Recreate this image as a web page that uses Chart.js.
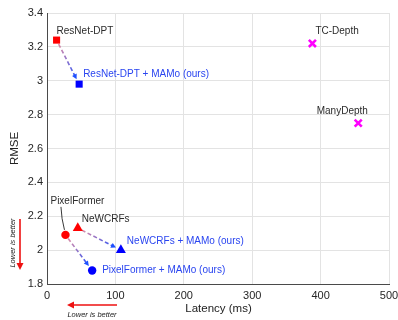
<!DOCTYPE html>
<html>
<head>
<meta charset="utf-8">
<script src="https://cdn.jsdelivr.net/npm/chart.js@4"></script>
<style>
html,body{margin:0;padding:0;background:#fff;}
#wrap{width:398px;height:320px;position:relative;}
</style>
</head>
<body>
<div id="wrap"><canvas id="c"></canvas></div>
<script>
// ---- data ----
const baseNames = ['ResNet-DPT', 'PixelFormer', 'NeWCRFs'];
const baseLatency = [14, 27, 45];
const baseRmse = [3.24, 2.09, 2.13];
const oursNames = ['ResNet-DPT + MAMo (ours)', 'PixelFormer + MAMo (ours)', 'NeWCRFs + MAMo (ours)'];
const oursLatency = [47, 66, 108];
const oursRmse = [2.98, 1.88, 2.00];
const otherNames = ['TC-Depth', 'ManyDepth'];
const otherLatency = [388, 455];
const otherRmse = [3.22, 2.75];
const xTicks = [0, 100, 200, 300, 400, 500];
const yTicks = [1.8, 2.0, 2.2, 2.4, 2.6, 2.8, 3.0, 3.2, 3.4];

const FONT = "'Liberation Sans', Arial, Helvetica, sans-serif";
const pointStyles = ['rect', 'circle', 'triangle'];
const radii = [5, 4.2, 5.8];

const toPts = (xs, ys) => xs.map((x, i) => ({x: x, y: ys[i]}));

// label offsets (pixels, style only)
const baseLabelOff = [[0, -9, 'left'], [-15, -34, 'left'], [4, -9, 'left']];
const oursLabelOff = [[4, -10, 'left'], [10, 0, 'left'], [6, -9, 'left']];
const otherLabelOff = [[3, -12, 'left'], [-41.5, -12, 'left']];

function arrowHead(ctx, x, y, ang, len, wid, color) {
  ctx.save();
  ctx.fillStyle = color;
  ctx.beginPath();
  ctx.moveTo(x, y);
  ctx.lineTo(x - len * Math.cos(ang) + wid * Math.sin(ang), y - len * Math.sin(ang) - wid * Math.cos(ang));
  ctx.lineTo(x - len * Math.cos(ang) - wid * Math.sin(ang), y - len * Math.sin(ang) + wid * Math.cos(ang));
  ctx.closePath();
  ctx.fill();
  ctx.restore();
}

const overlay = {
  id: 'overlay',
  beforeDatasetsDraw(chart) {
    const ctx = chart.ctx, xs = chart.scales.x, ys = chart.scales.y;
    for (let i = 0; i < baseNames.length; i++) {
      const x0 = xs.getPixelForValue(baseLatency[i]), y0 = ys.getPixelForValue(baseRmse[i]);
      const x1 = xs.getPixelForValue(oursLatency[i]), y1 = ys.getPixelForValue(oursRmse[i]);
      const ang = Math.atan2(y1 - y0, x1 - x0);
      const sx = x0 + 4.5 * Math.cos(ang), sy = y0 + 4.5 * Math.sin(ang);
      const ex = x1 - 5.5 * Math.cos(ang), ey = y1 - 5.5 * Math.sin(ang);
      const g = ctx.createLinearGradient(sx, sy, ex, ey);
      g.addColorStop(0, 'rgba(215,120,150,0.85)');
      g.addColorStop(1, 'rgba(30,80,255,1)');
      ctx.save();
      ctx.strokeStyle = g;
      ctx.lineWidth = 1.6;
      ctx.setLineDash([4, 2.5]);
      ctx.beginPath();
      ctx.moveTo(sx, sy);
      ctx.lineTo(ex - 3 * Math.cos(ang), ey - 3 * Math.sin(ang));
      ctx.stroke();
      ctx.restore();
      arrowHead(ctx, ex, ey, ang, 5, 2.6, 'rgb(30,80,255)');
    }
  },
  afterDraw(chart) {
    const ctx = chart.ctx, xs = chart.scales.x, ys = chart.scales.y;
    const ca = chart.chartArea;
    ctx.save();
    ctx.textBaseline = 'middle';
    ctx.font = '10px ' + FONT;
    {
      const px = xs.getPixelForValue(baseLatency[1]), py = ys.getPixelForValue(baseRmse[1]);
      ctx.strokeStyle = '#222';
      ctx.lineWidth = 0.9;
      ctx.beginPath();
      ctx.moveTo(px - 1, py - 5);
      ctx.quadraticCurveTo(px - 4, py - 16, px - 4.5, py - 28);
      ctx.stroke();
    }
    for (let i = 0; i < baseNames.length; i++) {
      const px = xs.getPixelForValue(baseLatency[i]), py = ys.getPixelForValue(baseRmse[i]);
      ctx.fillStyle = '#2b2b2b';
      ctx.textAlign = baseLabelOff[i][2];
      ctx.fillText(baseNames[i], px + baseLabelOff[i][0], py + baseLabelOff[i][1]);
    }
    for (let i = 0; i < oursNames.length; i++) {
      const px = xs.getPixelForValue(oursLatency[i]), py = ys.getPixelForValue(oursRmse[i]);
      ctx.fillStyle = '#2a45f0';
      ctx.textAlign = oursLabelOff[i][2];
      ctx.fillText(oursNames[i], px + oursLabelOff[i][0], py + oursLabelOff[i][1]);
    }
    for (let i = 0; i < otherNames.length; i++) {
      const px = xs.getPixelForValue(otherLatency[i]), py = ys.getPixelForValue(otherRmse[i]);
      ctx.fillStyle = '#2b2b2b';
      ctx.textAlign = otherLabelOff[i][2];
      ctx.fillText(otherNames[i], px + otherLabelOff[i][0], py + otherLabelOff[i][1]);
    }
    ctx.fillStyle = '#222';
    ctx.font = '11.5px ' + FONT;
    ctx.textAlign = 'center';
    ctx.fillText('Latency (ms)', (ca.left + ca.right) / 2 + 0.5, 309);
    ctx.save();
    ctx.translate(15, (ca.top + ca.bottom) / 2);
    ctx.rotate(-Math.PI / 2);
    ctx.fillText('RMSE', 0, 0);
    ctx.restore();
    const red = '#ee1111';
    ctx.strokeStyle = red;
    ctx.lineWidth = 1.6;
    ctx.beginPath();
    ctx.moveTo(20, 219);
    ctx.lineTo(20, 264);
    ctx.stroke();
    arrowHead(ctx, 20, 270, Math.PI / 2, 7, 3.5, red);
    ctx.beginPath();
    ctx.moveTo(117, 305);
    ctx.lineTo(73, 305);
    ctx.stroke();
    arrowHead(ctx, 67, 305, Math.PI, 7, 3.5, red);
    ctx.fillStyle = '#222';
    ctx.font = 'italic 7.5px ' + FONT;
    ctx.fillText('Lower is better', 92, 315);
    ctx.save();
    ctx.translate(12.5, 243);
    ctx.rotate(-Math.PI / 2);
    ctx.fillText('Lower is better', 0, 0);
    ctx.restore();
    ctx.restore();
  }
};

new Chart(document.getElementById('c'), {
  type: 'scatter',
  data: {
    datasets: [
      {
        label: 'Baselines',
        data: toPts(baseLatency, baseRmse),
        pointStyle: pointStyles,
        pointRadius: radii,
        backgroundColor: '#ff0000',
        borderColor: '#ff0000',
        borderWidth: 0
      },
      {
        label: 'Ours',
        data: toPts(oursLatency, oursRmse),
        pointStyle: pointStyles,
        pointRadius: radii,
        backgroundColor: '#0000ff',
        borderColor: '#0000ff',
        borderWidth: 0
      },
      {
        label: 'Others',
        data: toPts(otherLatency, otherRmse),
        pointStyle: 'crossRot',
        pointRadius: 5,
        borderColor: '#ff00ff',
        backgroundColor: '#ff00ff',
        borderWidth: 2.6
      }
    ]
  },
  options: {
    responsive: true,
    maintainAspectRatio: false,
    animation: false,
    layout: {padding: {top: 13, right: 9, left: 0, bottom: 0}},
    plugins: {legend: {display: false}, tooltip: {enabled: false}},
    scales: {
      x: {
        type: 'linear',
        min: 0, max: 500,
        afterBuildTicks: s => { s.ticks = xTicks.map(v => ({value: v})); },
        afterFit: s => { s.height = 36; s.paddingLeft = 0; s.paddingRight = 0; },
        grid: {color: '#e3e3e3', lineWidth: 1, drawTicks: false},
        border: {color: '#4a4a4a', width: 1},
        ticks: {padding: 5, color: '#262626', font: {family: FONT, size: 11}, maxRotation: 0}
      },
      y: {
        type: 'linear',
        min: 1.8, max: 3.4,
        afterBuildTicks: s => { s.ticks = yTicks.map(v => ({value: v})); },
        afterFit: s => { s.width = 47; s.paddingTop = 0; s.paddingBottom = 0; },
        grid: {color: '#e3e3e3', lineWidth: 1, drawTicks: false},
        border: {color: '#4a4a4a', width: 1},
        ticks: {padding: 4, color: '#262626', font: {family: FONT, size: 11},
          callback: v => String(Math.round(v * 10) / 10)}
      }
    }
  },
  plugins: [overlay]
});
</script>
</body>
</html>
